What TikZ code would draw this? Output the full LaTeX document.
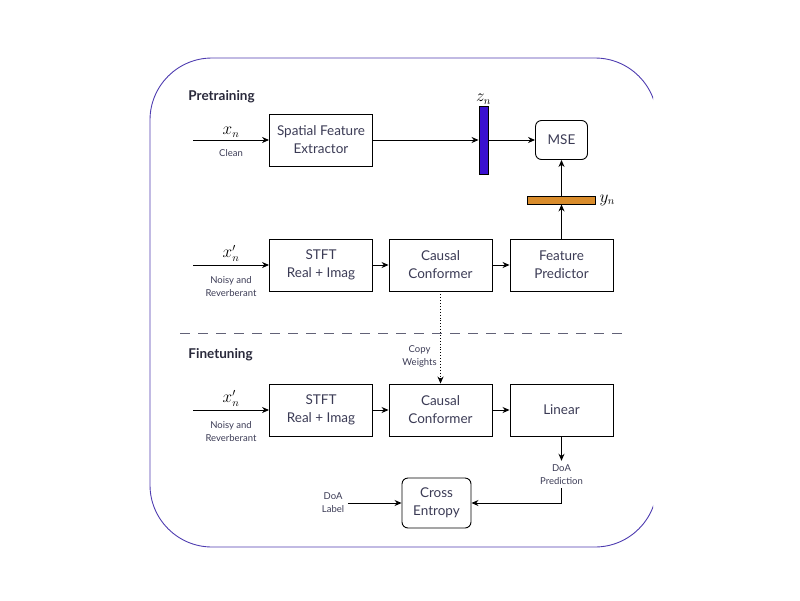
\documentclass[tikz,border=0pt]{standalone}
\usepackage{fontspec}
\setmainfont{Lato}
\usetikzlibrary{positioning,arrows.meta}

\definecolor{inkgray}{HTML}{3B3B55}
\definecolor{framecol}{HTML}{4E3CB0}
\definecolor{zfill}{HTML}{3A10D0}
\definecolor{yfill}{HTML}{D98C2B}

\begin{document}
\begin{tikzpicture}[x=1pt,y=-1pt,>={Stealth[length=7pt,width=6pt]},
    node distance=120pt,on grid,line width=0.9pt,
    block/.style={draw,minimum width=103pt,minimum height=52pt,align=center,
      font=\fontsize{13.5}{18}\selectfont,text=inkgray},
    loss/.style={block,rounded corners=6pt,minimum width=52pt,minimum height=39pt},
    small/.style={font=\fontsize{9.5}{13}\selectfont,text=inkgray,align=center},
    var/.style={font=\fontsize{16}{18}\selectfont},
    title/.style={font=\bfseries\fontsize{13.5}{16}\selectfont,text=inkgray!70!black,
      anchor=west,inner sep=0pt}]
    \useasboundingbox (0,0) rectangle (800,600);

    % outer frame, cut off on the right
    \begin{scope}
      \clip (0,0) rectangle (653,600);
      \draw[framecol] [rounded corners=62pt] (150,58) rectangle (657,547);
    \end{scope}

    \node[title] (pre)  at (188,97)  {Pretraining};
    \node[title] (fine) at (188,355) {Finetuning};

    % pretraining
    \node[block] (sfe)    at (321,140)                 {Spatial Feature\\Extractor};
    \node[block] (stft_1) [below=125pt of sfe]        {STFT\\Real + Imag};
    \node[block] (conf_1) [right=119.5pt of stft_1]   {Causal\\Conformer};
    \node[block] (pred)   [right=121pt of conf_1]     {Feature\\Predictor};
    \node[loss]  (mse)    [above=125pt of pred]       {MSE};
    \node[draw,fill=yfill,minimum width=68pt,minimum height=8pt,inner sep=0pt]
                 (y_n)    [above=65pt of pred]        {};
    \node[draw,fill=zfill,minimum width=9pt,minimum height=68pt,inner sep=0pt]
                 (z_n)    at (483.5,140)              {};
    \node[var,anchor=south,inner sep=1pt] (z_lbl) at (z_n.north) {$z_n$};
    \node[var,anchor=west] (y_lbl) at (y_n.east) {$y_n$};

    % finetuning
    \node[block] (stft_2) [below=145pt of stft_1]     {STFT\\Real + Imag};
    \node[block] (conf_2) [right=119.5pt of stft_2]   {Causal\\Conformer};
    \node[block] (lin)    [right=121pt of conf_2]     {Linear};
    \node[small] (doa_p)  [below=64.5pt of lin]       {DoA\\Prediction};
    \node[loss,minimum width=69pt,minimum height=50pt] (ce) at (436.5,503) {Cross\\Entropy};
    \node[small] (doa_l)  [left=103.5pt of ce]        {DoA\\Label};

    \coordinate[left=128pt of sfe]    (in_1);
    \coordinate[left=128pt of stft_1] (in_2);
    \coordinate[left=128pt of stft_2] (in_3);
    \coordinate (sep_l) at (180,333);
    \coordinate (sep_r) at (622,333);

    \draw[inkgray!80,dash pattern=on 10pt off 8pt] (sep_l) -- (sep_r);

    \path[->]
    % inputs
    (in_1) edge node[var,above,inner sep=2pt] (x_lbl) {$x_n$}
                node[small,below,inner sep=9pt] (clean) {Clean} (sfe)
    (in_2) edge node[var,above,inner sep=3pt] (xp_lbl_1) {$x'_n$}
                node[small,below,inner sep=11pt] (noisy_1) {Noisy and\\Reverberant} (stft_1)
    (in_3) edge node[var,above,inner sep=3pt] (xp_lbl_2) {$x'_n$}
                node[small,below,inner sep=11pt] (noisy_2) {Noisy and\\Reverberant} (stft_2)
    % top edges
    (sfe)    edge (z_n)
    (z_n)    edge (mse)
    (stft_1) edge (conf_1)
    (conf_1) edge (pred)
    (pred)   edge (y_n)
    (y_n)    edge (mse)
    % copy weights
    (conf_1) edge [dotted] node[small,left,pos=0.7] (copy) {Copy\\Weights} (conf_2)
    % bottom edges
    (stft_2) edge (conf_2)
    (conf_2) edge (lin)
    (lin)    edge (doa_p)
    (doa_l)  edge (ce);
    \draw[->] (doa_p) |- (ce);
\end{tikzpicture}
\end{document}
